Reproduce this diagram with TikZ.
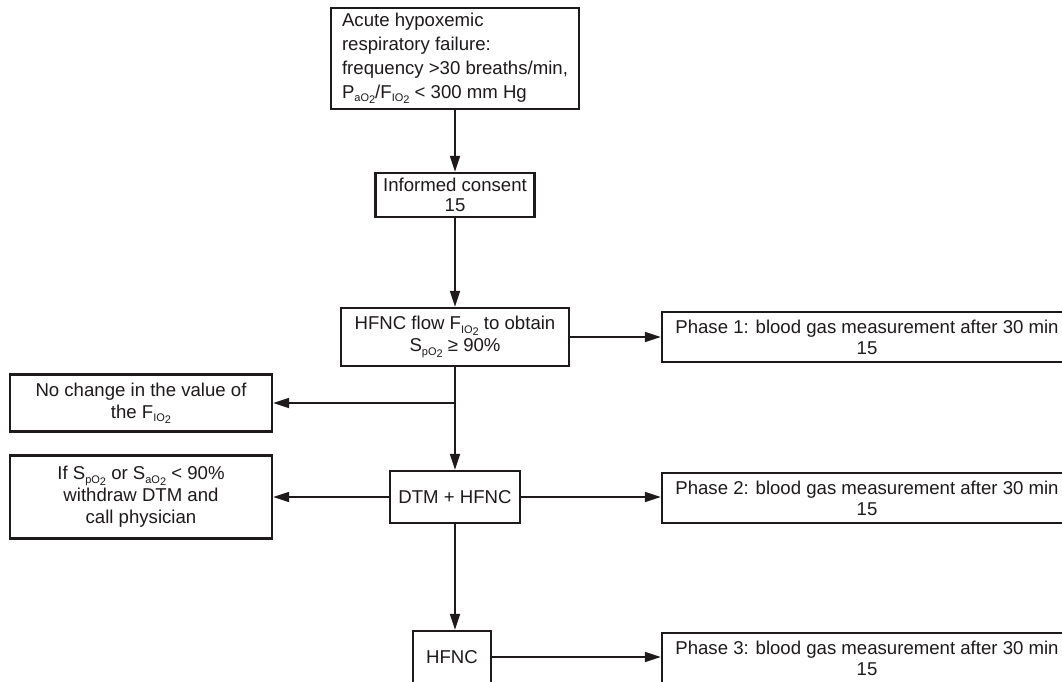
\documentclass[tikz,border=0pt]{standalone}
\usepackage{fontspec}
\setmainfont{Liberation Sans}
\usetikzlibrary{arrows.meta}
\definecolor{linec}{HTML}{1E1A1B}
\definecolor{textc}{HTML}{1E1A1B}
\newcommand\sbs[1]{\raisebox{-0.35ex}{\fontsize{11}{11}\selectfont #1\raisebox{-0.35ex}{2}}}
\begin{document}
\begin{tikzpicture}[x=1pt,y=-1pt,
  box/.style={draw=linec, line width=2.4pt, inner sep=0pt, align=center,
    font=\fontsize{18.6}{22}\selectfont, text=textc},
  conn/.style={draw=linec, line width=2pt, -{Triangle[length=16pt,width=10pt]}}]
\path[use as bounding box] (0,0) rectangle (1062,682);
\clip (0,0) rectangle (1062,682);
\fill[white] (0,0) rectangle (1062,682);

\node[box, minimum width=248pt, minimum height=101pt, align=left,
  font=\fontsize{18.6}{24}\selectfont] (acute) at (455,58.5)
  {Acute hypoxemic\\respiratory failure:\\frequency >30 breaths/min,\\P\sbs{aO}/F\sbs{IO} < 300 mm Hg};
\node[box, minimum width=159pt, minimum height=44pt,
  font=\fontsize{18.6}{20}\selectfont] (informed) at (455,195)
  {Informed consent\\15};
\node[box, minimum width=228pt, minimum height=58pt] (flow) at (455,337)
  {HFNC flow F\sbs{IO} to obtain\\S\sbs{pO} ≥ 90\%};
\node[box, minimum width=410pt, minimum height=50pt,
  font=\fontsize{18.6}{21}\selectfont] (p1) at (867,337)
  {Phase 1: blood gas measurement after 30 min\\15};
\node[box, minimum width=262pt, minimum height=57pt] (nochange) at (141,403)
  {No change in the value of\\the F\sbs{IO}};
\node[box, minimum width=130pt, minimum height=52pt] (dtm) at (455,497)
  {DTM + HFNC};
\node[box, minimum width=262pt, minimum height=83pt] (ifbox) at (141,497)
  {If S\sbs{pO} or S\sbs{aO} < 90\%\\withdraw DTM and\\call physician};
\node[box, minimum width=410pt, minimum height=50pt,
  font=\fontsize{18.6}{21}\selectfont] (p2) at (867,498)
  {Phase 2: blood gas measurement after 30 min\\15};
\node[box, minimum width=78pt, minimum height=52pt] (hfnc) at (452,657)
  {HFNC};
\node[box, minimum width=410pt, minimum height=50pt,
  font=\fontsize{18.6}{21}\selectfont] (p3) at (867,658)
  {Phase 3: blood gas measurement after 30 min\\15};

\coordinate (j) at (flow.south |- nochange.east);
\draw[conn] (acute.south) -- (informed.north);
\draw[conn] (informed.south) -- (flow.north);
\draw[conn] (flow.east) -- (flow.east -| p1.west);
\draw[conn] (flow.south) -- (flow.south |- dtm.north);
\draw[conn] (j) -- (nochange.east);
\draw[conn] (dtm.west) -- (dtm.west -| ifbox.east);
\draw[conn] (dtm.east) -- (dtm.east -| p2.west);
\draw[conn] (dtm.south) -- (dtm.south |- hfnc.north);
\draw[conn] (hfnc.east) -- (hfnc.east -| p3.west);
\end{tikzpicture}
\end{document}
